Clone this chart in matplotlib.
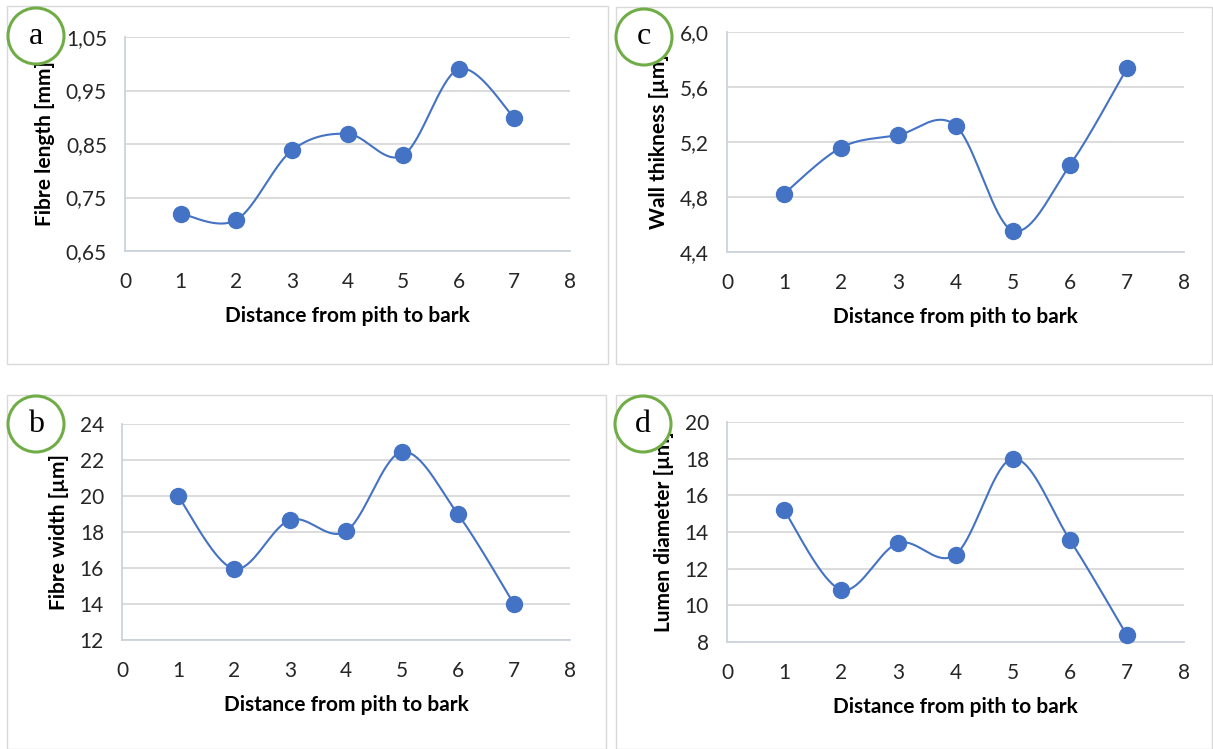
import numpy as np
import matplotlib
matplotlib.use("Agg")
import matplotlib.pyplot as plt
from matplotlib.patches import Ellipse, Rectangle

# figure size in pixels
W, H = 1213, 749

distance = [1, 2, 3, 4, 5, 6, 7]

fibre_length = [0.72, 0.708, 0.838, 0.869, 0.829, 0.99, 0.899]
wall_thickness = [4.824, 5.16, 5.251, 5.32, 4.556, 5.03, 5.735]
fibre_width = [20.0, 15.95, 18.67, 18.04, 22.45, 18.98, 14.0]
lumen_diameter = [15.18, 10.85, 13.4, 12.77, 18.0, 13.58, 8.37]

xticks = [0, 1, 2, 3, 4, 5, 6, 7, 8]
length_ticks = [0.65, 0.75, 0.85, 0.95, 1.05]
length_labels = ['0,65', '0,75', '0,85', '0,95', '1,05']
wall_ticks = [4.4, 4.8, 5.2, 5.6, 6.0]
wall_labels = ['4,4', '4,8', '5,2', '5,6', '6,0']
width_ticks = [12, 14, 16, 18, 20, 22, 24]
width_labels = ['12', '14', '16', '18', '20', '22', '24']
lumen_ticks = [8, 10, 12, 14, 16, 18, 20]
lumen_labels = ['8', '10', '12', '14', '16', '18', '20']

BLUE = '#4472C4'
GREEN = '#70AD47'
GRID = '#D9D9D9'
FONT = 'Lato'


def smooth_curve(xs, ys, n=40):
    # Excel style smoothed line: cubic bezier through the points
    x = np.asarray(xs, float)
    y = np.asarray(ys, float)
    px = np.concatenate([[x[0]], x, [x[-1]]])
    py = np.concatenate([[y[0]], y, [y[-1]]])
    t = np.linspace(0, 1, n)
    out_x, out_y = [], []
    for i in range(len(x) - 1):
        p0x, p0y = px[i + 1], py[i + 1]
        p3x, p3y = px[i + 2], py[i + 2]
        c1x = p0x + (px[i + 2] - px[i]) / 6
        c1y = p0y + (py[i + 2] - py[i]) / 6
        c2x = p3x - (px[i + 3] - px[i + 1]) / 6
        c2y = p3y - (py[i + 3] - py[i + 1]) / 6
        b0 = (1 - t) ** 3
        b1 = 3 * (1 - t) ** 2 * t
        b2 = 3 * (1 - t) * t ** 2
        b3 = t ** 3
        out_x.append(b0 * p0x + b1 * c1x + b2 * c2x + b3 * p3x)
        out_y.append(b0 * p0y + b1 * c1y + b2 * c2y + b3 * p3y)
    return np.concatenate(out_x), np.concatenate(out_y)


def px_rect(left, top, right, bottom):
    return [left / W, 1 - bottom / H, (right - left) / W, (bottom - top) / H]


def draw_panel(fig, axes_px, border_px, circle_px, x, y, yticks, ylabels,
               ylabel, letter):
    # light frame around the panel
    l, t, r, b = border_px
    fig.add_artist(Rectangle((l / W, 1 - b / H), (r - l) / W, (b - t) / H,
                             transform=fig.transFigure, fill=False,
                             edgecolor=GRID, linewidth=1.0, zorder=0))

    ax = fig.add_axes(px_rect(*axes_px))
    sx, sy = smooth_curve(x, y)
    ax.plot(sx, sy, color=BLUE, linewidth=1.5, zorder=3, clip_on=False)
    ax.plot(x, y, 'o', color=BLUE, markersize=11.5, zorder=4, clip_on=False)

    ax.set_xlim(0, 8)
    ax.set_ylim(yticks[0], yticks[-1])
    ax.set_xticks(xticks)
    ax.set_xticklabels([str(v) for v in xticks])
    ax.set_yticks(yticks)
    ax.set_yticklabels(ylabels)
    ax.tick_params(length=0, labelsize=15, labelcolor='#262626', pad=13)
    ax.tick_params(axis='x', pad=15)
    for lab in ax.get_xticklabels() + ax.get_yticklabels():
        lab.set_fontfamily(FONT)
    ax.grid(axis='y', color=GRID, linewidth=1.3)
    ax.set_axisbelow(True)
    for side in ['top', 'right']:
        ax.spines[side].set_visible(False)
    for side in ['left', 'bottom']:
        ax.spines[side].set_color('#CCD3DB')
        ax.spines[side].set_linewidth(1.3)

    ax.set_xlabel('Distance from pith to bark', fontsize=15, fontweight='bold',
                  fontfamily=FONT, labelpad=10)
    ax.set_ylabel(ylabel, fontsize=15, fontweight='bold', fontfamily=FONT,
                  labelpad=8)

    # panel letter in a green circle
    cx, cy, rad = circle_px
    fig.add_artist(Ellipse((cx / W, 1 - cy / H), 2 * rad / W, 2 * rad / H,
                           transform=fig.transFigure, facecolor='white',
                           edgecolor=GREEN, linewidth=2.2, zorder=10))
    fig.text(cx / W, 1 - cy / H, letter, ha='center', va='center',
             fontsize=23, family='Liberation Serif', zorder=11)
    return ax


fig = plt.figure(figsize=(W / 100, H / 100), dpi=100)

draw_panel(fig, (125, 37, 570, 251), (7, 6, 608, 364), (36, 36, 28),
           distance, fibre_length, length_ticks, length_labels,
           'Fibre length [mm]', 'a')
draw_panel(fig, (727, 32, 1184, 252), (616, 7, 1212, 364), (644, 37, 28),
           distance, wall_thickness, wall_ticks, wall_labels,
           'Wall thikness [µm]', 'c')
draw_panel(fig, (122, 424, 570, 640), (7, 395, 606, 749), (36, 424, 28),
           distance, fibre_width, width_ticks, width_labels,
           'Fibre width [µm]', 'b')
draw_panel(fig, (727, 422, 1184, 642), (616, 395, 1212, 749), (643, 424, 28),
           distance, lumen_diameter, lumen_ticks, lumen_labels,
           'Lumen diameter [µm]', 'd')

fig.savefig('out.png', dpi=100)
